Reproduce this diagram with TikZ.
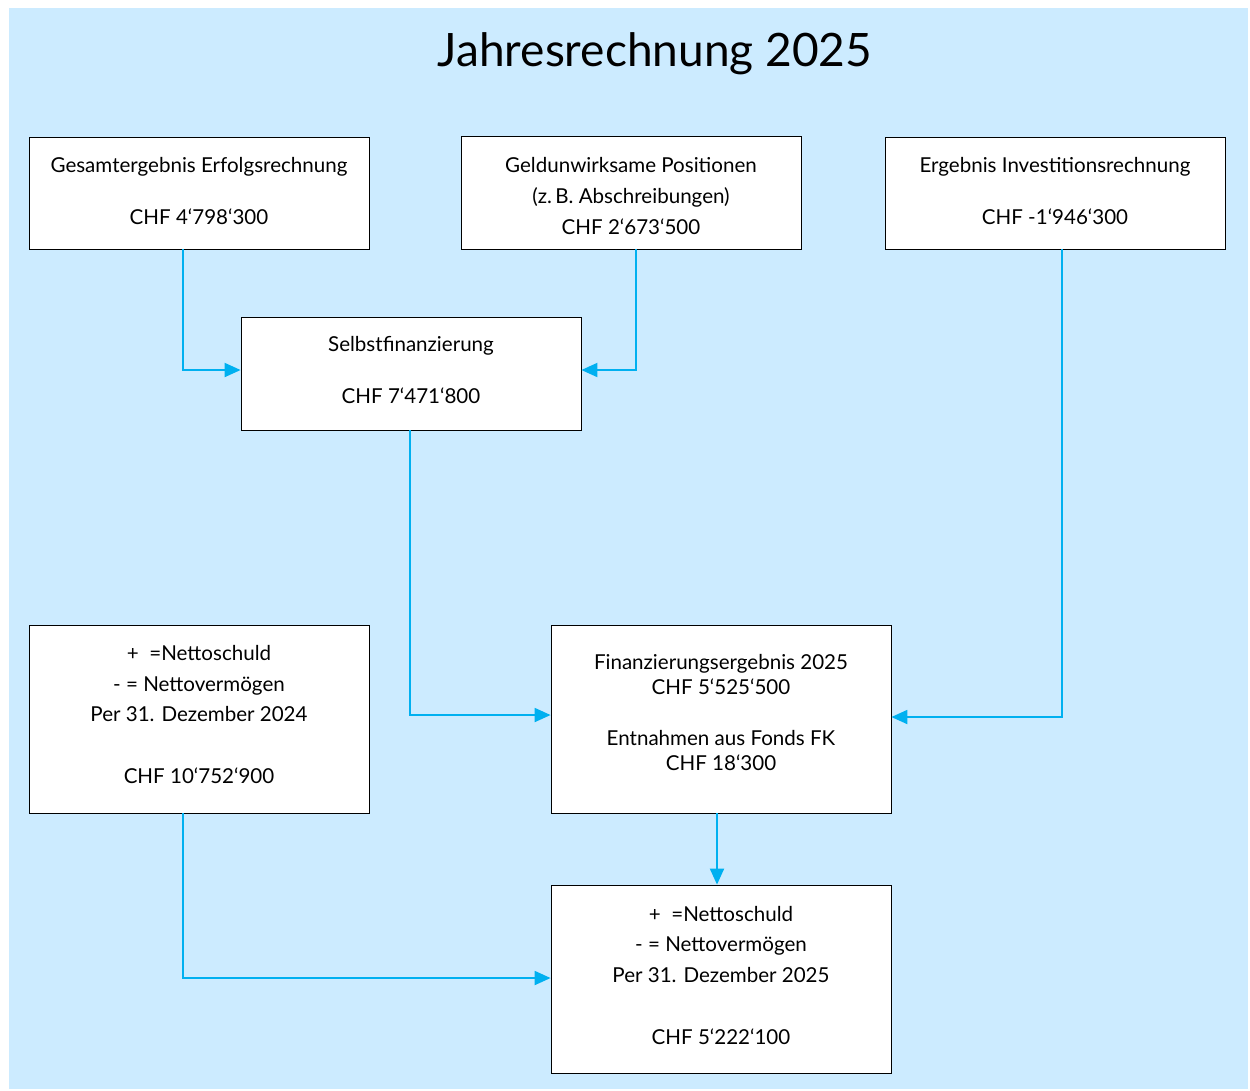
\documentclass[tikz,border=0pt]{standalone}
\usepackage{fontspec}
\setmainfont{Lato}
\usetikzlibrary{arrows.meta,calc}
\definecolor{bgblue}{HTML}{CCEBFF}
\definecolor{arrblue}{HTML}{00B0F0}
\tikzset{
  box/.style={draw=black, fill=white, line width=0.5pt, minimum width=6.8cm, inner sep=0pt, align=center, font=\fontsize{11.7}{17.3}\selectfont},
  arr/.style={draw=arrblue, line width=1.1pt, -{Triangle[length=0.32cm,width=0.28cm]}, fill=none}
}
\begin{document}
\begin{tikzpicture}[x=0.02cm,y=-0.02cm]
\useasboundingbox (0,0) rectangle (1250,1090);
\fill[bgblue] (9,8) rectangle (1248,1089);
\node[font=\fontsize{26.2}{30}\selectfont] (title) at (655,54) {Jahresrechnung 2025};
\node[box, minimum height=2.24cm] (A) at (199,193) {Gesamtergebnis Erfolgsrechnung\\[12.2pt]CHF 4‘798‘300\\[-15pt]\mbox{}};
\node[box, minimum height=2.26cm] (B) at (631,192.5) {\mbox{}\\[-5pt]Geldunwirksame Positionen\\[0.3pt](z.\,B. Abschreibungen)\\[0.3pt]CHF 2‘673‘500};
\node[box, minimum height=2.24cm] (C) at (1055,193) {Ergebnis Investitionsrechnung\\[12.2pt]CHF -1‘946‘300\\[-15pt]\mbox{}};
\node[box, minimum height=2.26cm] (S) at (411,373.5) {Selbstfinanzierung\\[12.5pt]CHF 7‘471‘800\\[-13pt]\mbox{}};
\node[box, minimum height=3.76cm] (L) at (199,719) {+\ \ =Nettoschuld\\- = Nettovermögen\\Per 31. Dezember 2024\\[18pt]CHF 10‘752‘900\\[-12.5pt]\mbox{}};
\node[box, minimum height=3.76cm] (F) at (721,719) {Finanzierungsergebnis 2025\\[-3pt]CHF 5‘525‘500\\[12pt]Entnahmen aus Fonds FK\\[-3pt]CHF 18‘300\\[-9.8pt]\mbox{}};
\node[box, minimum height=3.76cm] (E) at (721,979) {+\ \ =Nettoschuld\\- = Nettovermögen\\Per 31. Dezember 2025\\[18pt]CHF 5‘222‘100\\[-13pt]\mbox{}};
\draw[arr] ([xshift=-0.32cm]A.south) |- ([yshift=0.07cm]S.west);
\draw[arr] ([xshift=0.1cm]B.south) |- ([yshift=0.07cm]S.east);
\draw[arr] ([xshift=-0.02cm]S.south) |- ([yshift=0.08cm]F.west);
\draw[arr] ([xshift=0.14cm]C.south) |- ([yshift=0.04cm]F.east);
\draw[arr] ([xshift=-0.08cm]F.south) -- ([xshift=-0.08cm]E.north);
\draw[arr] ([xshift=-0.32cm]L.south) |- ([yshift=0.02cm]E.west);
\end{tikzpicture}
\end{document}
